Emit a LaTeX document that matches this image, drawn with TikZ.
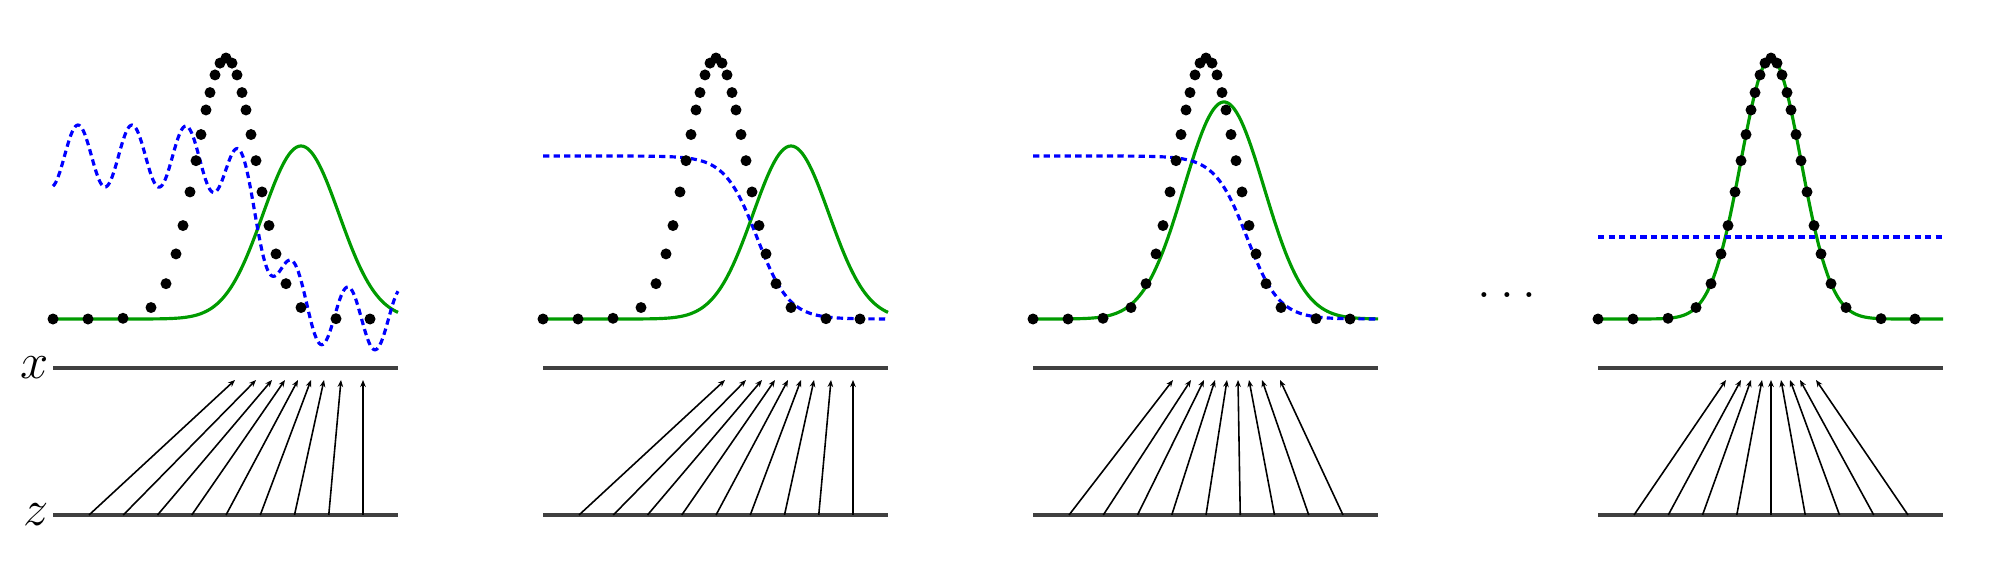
\documentclass[tikz,border=0pt]{standalone}
\usepackage{amsmath}
\usepackage{tikz}
\usetikzlibrary{arrows.meta,positioning}
\definecolor{pgreen}{RGB}{0,155,0}

\begin{document}
\begin{tikzpicture}[x=0.01cm,y=0.01cm,>={Stealth[length=2pt,width=1.6pt]},semithick]
  \tikzstyle{axis}=[draw=black!75,line width=1.2pt]
  \tikzstyle{datadot}=[fill=black]
  \tikzstyle{gen}=[draw=pgreen,line width=0.9pt]
  \tikzstyle{disc}=[draw=blue,line width=0.9pt,dash pattern=on 1.8pt off 1.2pt]
  \tikzstyle{map}=[->,line width=0.45pt]

  \useasboundingbox (0,0) rectangle (2000,572);

  % x and z lines of each panel
  \foreach \p/\ox in {1/53,2/543,3/1033,4/1598} {
    \begin{scope}[shift={(\ox,0)}]
      \coordinate (xl\p) at (0,204);
      \coordinate (xr\p) at (345,204);
      \coordinate (zl\p) at (0,57);
      \coordinate (zr\p) at (345,57);
      \draw[axis] (xl\p) -- (xr\p);
      \draw[axis] (zl\p) -- (zr\p);
    \end{scope}
  }

  \node (xlab) [left=1pt of xl1,inner sep=0pt] {\Large $x$};
  \node (zlab) [left=1pt of zl1,inner sep=0pt] {\Large $z$};
  \node (etc) at (1507,277) {\Large $\ldots$};

  % generator density (green), discriminator (blue)
  \begin{scope}[shift={(53,0)}]
    \draw[gen] plot[domain=0:345,samples=150] (\x,{253+173*exp(-0.5*((\x-248)/38)^2)});
    \draw[disc] plot[domain=0:345,samples=250] (\x,{253+163/(1+exp((\x-214)/16))+31*cos(6.667*(\x-25))});
  \end{scope}
  \begin{scope}[shift={(543,0)}]
    \draw[gen] plot[domain=0:345,samples=150] (\x,{253+173*exp(-0.5*((\x-248)/38)^2)});
    \draw[disc] plot[domain=0:345,samples=150] (\x,{253+163/(1+exp((\x-214)/16))});
  \end{scope}
  \begin{scope}[shift={(1033,0)}]
    \draw[gen] plot[domain=0:345,samples=150] (\x,{253+217*exp(-0.5*((\x-191)/40)^2)});
    \draw[disc] plot[domain=0:345,samples=150] (\x,{253+163/(1+exp((\x-214)/16))});
  \end{scope}
  \begin{scope}[shift={(1598,0)}]
    \draw[gen] plot[domain=0:345,samples=150] (\x,{253+261*exp(-0.5*((\x-173)/30)^2)});
    \draw[disc] (0,335) -- (345,335);
  \end{scope}

  % data points
  \foreach \ox in {53,543,1033,1598}
    \foreach \d in {-173,-138,-103,-75,-60,-50,-43,-36,-30,-25,-20,-16,-11,-6,0,6,11,16,20,25,30,36,43,50,60,75,110,144}
      \fill[datadot] ({\ox+173+\d},{253+261*exp(-0.5*(\d/30)^2)}) circle (5.5);

  % mapping z -> x
  \foreach \p/\ox/\ends in {1/53/{182,203,219,232,245,258,271,288,310},
                            2/543/{182,203,219,232,245,258,271,288,310},
                            3/1033/{140,158,171,182,194,205,216,229,247},
                            4/1598/{128,143,153,164,173,183,192,202,218}} {
    \foreach \e [count=\i from 0] in \ends {
      \coordinate (z\p-\i) at ({\ox+36+34.25*\i},57);
      \coordinate (x\p-\i) at ({\ox+\e},192);
      \draw[map] (z\p-\i) -- (x\p-\i);
    }
  }
\end{tikzpicture}
\end{document}
